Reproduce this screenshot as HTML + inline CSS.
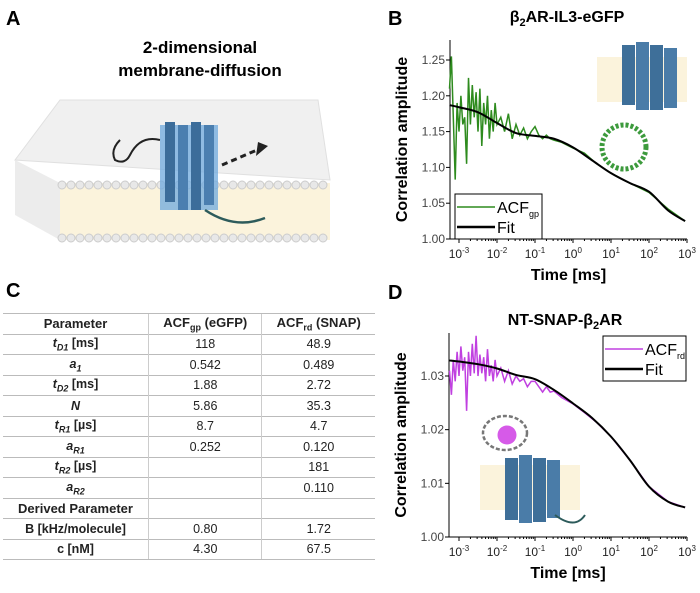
<!DOCTYPE html>
<html><head><meta charset="utf-8"><style>
body{margin:0;width:700px;height:593px;background:#fff;overflow:hidden;font-family:"Liberation Sans",sans-serif;position:relative}
.pl{position:absolute;font-weight:bold;font-size:20px}
table{position:absolute;left:3px;top:313px;width:372px;border-collapse:collapse;font-size:12.5px}
td{border-top:1.5px solid #bbb;border-left:1.5px solid #ccc;text-align:center;height:19.5px;padding:0;color:#222}
td:first-child{border-left:none;font-weight:bold}
tr:first-child td{font-weight:bold;font-size:13px}
tr:last-child td{border-bottom:1.5px solid #bbb}
sub{font-size:9px}
</style></head><body>
<div class="pl" style="left:6px;top:8px">A</div>
<div class="pl" style="left:388px;top:8px">B</div>
<div class="pl" style="left:6px;top:280px">C</div>
<div class="pl" style="left:388px;top:282px">D</div>
<div style="position:absolute;left:90px;top:36px;width:220px;text-align:center;font-weight:bold;font-size:17px;line-height:23px">2-dimensional<br>membrane-diffusion</div>

<svg style="position:absolute;left:0;top:0" width="700" height="593">
 <g>
  <polygon points="15,160 60,100 318,100 330,180" fill="#f0f0f0" stroke="#e0e0e0"/>
  <polygon points="60,183 330,183 330,240 60,240" fill="#fbf3dc"/>
  <polygon points="15,160 60,183 60,240 15,215" fill="#ececec"/>
  <g id="heads"></g>
  <path d="M120,140 q-10,10 -5,20 q10,5 15,-5 q10,-20 30,-15" stroke="#222" stroke-width="2" fill="none"/>
  <rect x="160" y="125" width="58" height="85" fill="#6fa9dd" opacity="0.75"/>
  <rect x="165" y="122" width="10" height="80" fill="#3c6d9a"/>
  <rect x="178" y="125" width="10" height="85" fill="#4b7fb0"/>
  <rect x="191" y="122" width="10" height="88" fill="#3c6d9a"/>
  <rect x="204" y="125" width="10" height="80" fill="#4b7fb0"/>
  <path d="M205,210 q30,20 60,8" stroke="#2d5b5b" stroke-width="2.5" fill="none"/>
  <path d="M222,165 l35,-15" stroke="#222" stroke-width="3" stroke-dasharray="6,4" fill="none"/>
  <polygon points="258,142 268,146 256,156" fill="#222"/>
 </g>
 <g>
  <rect x="597" y="57" width="90" height="45" fill="#fbf3dc"/>
  <rect x="622" y="45" width="13" height="60" fill="#3e6f99"/><rect x="636" y="42" width="13" height="68" fill="#4a7ca8"/>
  <rect x="650" y="45" width="13" height="65" fill="#3e6f99"/><rect x="664" y="48" width="13" height="60" fill="#4a7ca8"/>
  <ellipse cx="624" cy="147" rx="22" ry="22" fill="none" stroke="#3c9a3c" stroke-width="5" stroke-dasharray="3,2"/>
 </g>
 <g>
  <rect x="480" y="465" width="100" height="45" fill="#fbf3dc"/>
  <ellipse cx="505" cy="433" rx="22" ry="17" fill="none" stroke="#777" stroke-width="2.5" stroke-dasharray="4,2"/>
  <circle cx="507" cy="435" r="9.5" fill="#d65ae8"/>
  <rect x="505" y="458" width="13" height="62" fill="#3e6f99"/><rect x="519" y="455" width="13" height="68" fill="#4a7ca8"/>
  <rect x="533" y="458" width="13" height="64" fill="#3e6f99"/><rect x="547" y="460" width="13" height="58" fill="#4a7ca8"/>
  <path d="M555,515 q20,15 30,0" stroke="#2d5b5b" stroke-width="2" fill="none"/>
 </g>
 <g id="chartB"></g>
 <g id="chartD"></g>
</svg>

<table>
<tr><td style="width:145px">Parameter</td><td>ACF<sub>gp</sub> (eGFP)</td><td>ACF<sub>rd</sub> (SNAP)</td></tr>
<tr><td><i>t<sub>D1</sub></i> [ms]</td><td>118</td><td>48.9</td></tr>
<tr><td><i>a<sub>1</sub></i></td><td>0.542</td><td>0.489</td></tr>
<tr><td><i>t<sub>D2</sub></i> [ms]</td><td>1.88</td><td>2.72</td></tr>
<tr><td><i>N</i></td><td>5.86</td><td>35.3</td></tr>
<tr><td><i>t<sub>R1</sub></i> [µs]</td><td>8.7</td><td>4.7</td></tr>
<tr><td><i>a<sub>R1</sub></i></td><td>0.252</td><td>0.120</td></tr>
<tr><td><i>t<sub>R2</sub></i> [µs]</td><td></td><td>181</td></tr>
<tr><td><i>a<sub>R2</sub></i></td><td></td><td>0.110</td></tr>
<tr><td style="font-size:13px">Derived Parameter</td><td></td><td></td></tr>
<tr><td>B [kHz/molecule]</td><td>0.80</td><td>1.72</td></tr>
<tr><td>c [nM]</td><td>4.30</td><td>67.5</td></tr>
</table>

<script>
const fitLogT = [-3.25,-3,-2.5,-2,-1.5,-1,-0.5,0,0.5,1,1.5,2,2.5,2.95];
const fitB = [1.187,1.184,1.177,1.162,1.148,1.144,1.140,1.128,1.110,1.092,1.078,1.066,1.040,1.025];
const fitD = [1.0329,1.0327,1.0322,1.0314,1.0302,1.0294,1.0274,1.0249,1.0222,1.0187,1.0143,1.0094,1.0066,1.0055];
const dataLogT = [-3.25,-3.2,-3.15,-3.1,-3.05,-3,-2.95,-2.9,-2.85,-2.8,-2.75,-2.7,-2.65,-2.6,-2.55,-2.5,-2.45,-2.4,-2.35,-2.3,-2.25,-2.2,-2.15,-2.1,-2.05,-2,-1.9,-1.8,-1.7,-1.6,-1.5,-1.4,-1.3,-1.2,-1.1,-1,-0.9,-0.8,-0.7,-0.6,-0.5,-0.3,0,0.3,0.6,1,1.5,2,2.5,2.95];
const acfGp = [1.21,1.255,1.17,1.083,1.19,1.15,1.20,1.16,1.17,1.105,1.225,1.16,1.215,1.17,1.205,1.15,1.21,1.13,1.19,1.16,1.20,1.14,1.18,1.15,1.19,1.16,1.17,1.15,1.175,1.14,1.16,1.145,1.155,1.14,1.15,1.157,1.145,1.14,1.145,1.14,1.138,1.135,1.127,1.12,1.106,1.092,1.078,1.065,1.042,1.025];
const acfRd = [1.031,1.0265,1.033,1.029,1.0345,1.030,1.0355,1.031,1.0335,1.0235,1.0345,1.030,1.036,1.0305,1.0375,1.030,1.034,1.0305,1.0335,1.029,1.035,1.030,1.032,1.029,1.033,1.030,1.0315,1.029,1.031,1.0285,1.030,1.029,1.0295,1.028,1.029,1.029,1.028,1.027,1.028,1.027,1.0272,1.026,1.0248,1.0232,1.0215,1.0187,1.0143,1.0094,1.0066,1.0055];
const yTicksB = [1.00,1.05,1.10,1.15,1.20,1.25];
const yTicksD = [1.00,1.01,1.02,1.03];
const xDecades = [-3,-2,-1,0,1,2,3];
const NS="http://www.w3.org/2000/svg";
function mk(p,tag,at){const e=document.createElementNS(NS,tag);for(const k in at)e.setAttribute(k,at[k]);p.appendChild(e);return e;}
function smooth(pts){let d='M'+pts[0][0]+','+pts[0][1];
  for(let i=0;i<pts.length-1;i++){const p0=pts[Math.max(0,i-1)],p1=pts[i],p2=pts[i+1],p3=pts[Math.min(pts.length-1,i+2)];
    const c1x=p1[0]+(p2[0]-p0[0])/6,c1y=p1[1]+(p2[1]-p0[1])/6,c2x=p2[0]-(p3[0]-p1[0])/6,c2y=p2[1]-(p3[1]-p1[1])/6;
    d+=` C${c1x},${c1y} ${c2x},${c2y} ${p2[0]},${p2[1]}`;}return d;}
function chart(g,o){
  const X=v=>o.x0+(v-(-3))*o.dec, Y=v=>o.yb-(v-o.ymin)/(o.ymax-o.ymin)*(o.yb-o.yt);
  const t=mk(g,'text',{x:o.tx,y:o.ty,'text-anchor':'middle','font-size':'16','font-weight':'bold'});t.innerHTML=o.title;
  
  
  mk(g,'line',{x1:o.xl,y1:o.top,x2:o.xl,y2:o.yb,stroke:'#000'});
  mk(g,'line',{x1:o.xl,y1:o.yb,x2:o.xr,y2:o.yb,stroke:'#000'});
  o.yt_.forEach(v=>{mk(g,'line',{x1:o.xl-4,y1:Y(v),x2:o.xl,y2:Y(v),stroke:'#000'});
    const l=mk(g,'text',{x:o.xl-5,y:Y(v)+4,'text-anchor':'end','font-size':'12',fill:'#444'});l.textContent=v.toFixed(2);
    
    });
  xDecades.forEach(d=>{mk(g,'line',{x1:X(d),y1:o.yb,x2:X(d),y2:o.yb+4,stroke:'#000'});
    for(let m=2;m<10&&d<3;m++){mk(g,'line',{x1:X(d+Math.log10(m)),y1:o.yb,x2:X(d+Math.log10(m)),y2:o.yb+2,stroke:'#000'});}
    const l=mk(g,'text',{x:X(d),y:o.yb+19,'text-anchor':'middle','font-size':'12',fill:'#222'});l.innerHTML='10<tspan dy="-5" font-size="8">'+d+'</tspan>';
    
    });
  const xl=mk(g,'text',{x:(o.xl+o.xr)/2,y:o.yb+41,'text-anchor':'middle','font-size':'16','font-weight':'bold'});xl.textContent='Time [ms]';
  
  
  const yl=mk(g,'text',{x:0,y:0,'text-anchor':'middle','font-size':'16','font-weight':'bold',transform:`translate(${o.xl-43},${(o.top+o.yb)/2}) rotate(-90)`});yl.textContent='Correlation amplitude';
  
  
  const dp=mk(g,'polyline',{points:dataLogT.map((t,i)=>X(t)+','+Y(o.data[i])).join(' '),fill:'none',stroke:o.col,'stroke-width':'1.5'});
  
  
  const fp=mk(g,'path',{d:smooth(fitLogT.map((t,i)=>[X(t),Y(o.fit[i])])),fill:'none',stroke:'#000','stroke-width':'2'});
  
  
  const L=o.leg;
  const lg=mk(g,'g',{});
  
  
  mk(lg,'rect',{x:L[0],y:L[1],width:L[2],height:L[3],fill:'#fff',stroke:'#000'});
  mk(lg,'line',{x1:L[0]+2,y1:L[1]+13,x2:L[0]+40,y2:L[1]+13,stroke:o.col,'stroke-width':'1.5'});
  mk(lg,'line',{x1:L[0]+2,y1:L[1]+33,x2:L[0]+40,y2:L[1]+33,stroke:'#000','stroke-width':'2.5'});
  const a=mk(lg,'text',{x:L[0]+42,y:L[1]+19,'font-size':'16'});a.innerHTML='ACF<tspan dy="4" font-size="9">'+o.sub+'</tspan>';
  const f=mk(lg,'text',{x:L[0]+42,y:L[1]+39,'font-size':'16'});f.textContent='Fit';
}
chart(document.getElementById('chartB'),{x0:459,dec:38,xl:450,xr:687,top:40,yb:239,yt:60,ymin:1.0,ymax:1.25,yt_:yTicksB,data:acfGp,fit:fitB,col:'#2e8b1e',title:'β<tspan dy="4" font-size="11">2</tspan><tspan dy="-4">AR-IL3-eGFP</tspan>',tx:567,ty:22,leg:[455,194,87,45],sub:'gp'});
chart(document.getElementById('chartD'),{x0:459,dec:38,xl:449,xr:687,top:333,yb:537,yt:376,ymin:1.0,ymax:1.03,yt_:yTicksD,data:acfRd,fit:fitD,col:'#c040e0',title:'NT-SNAP-β<tspan dy="4" font-size="11">2</tspan><tspan dy="-4">AR</tspan>',tx:565,ty:325,leg:[603,336,83,45],sub:'rd'});
const hg=document.getElementById('heads');
for(let x=62;x<330;x+=9){mk(hg,'circle',{cx:x,cy:185,r:4,fill:'#e8e8e8',stroke:'#ccc'});mk(hg,'circle',{cx:x,cy:238,r:4,fill:'#e8e8e8',stroke:'#ccc'});}
</script>
</body></html>
